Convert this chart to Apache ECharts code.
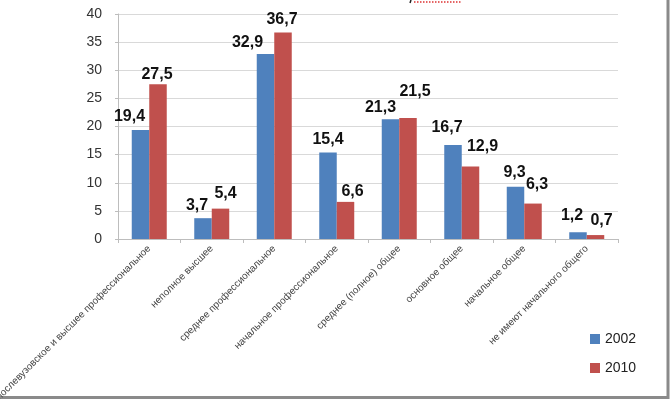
<!DOCTYPE html>
<html>
<head>
<meta charset="utf-8">
<script src="https://cdn.jsdelivr.net/npm/echarts@6/dist/echarts.min.js"></script>
<style>
  html, body { margin: 0; padding: 0; background: #fff; }
  #chart { width: 670px; height: 399px; }
</style>
</head>
<body>
<div id="chart"></div>
<script>
// категории и значения
const categories = [
  'послевузовское и высшее профессиональное',
  'неполное высшее',
  'среднее профессиональное',
  'начальное профессиональное',
  'среднее (полное) общее',
  'основное общее',
  'начальное общее',
  'не имеют начального общего'
];
const values2002 = [19.4, 3.7, 32.9, 15.4, 21.3, 16.7, 9.3, 1.2];
const values2010 = [27.5, 5.4, 36.7, 6.6, 21.5, 12.9, 6.3, 0.7];
const yTicks = [0, 5, 10, 15, 20, 25, 30, 35, 40];

// сдвиги подписей (как в исходной картинке)
const dx2002 = [-11, -6, -18, 0, -10, -6, -1, -6];
const dy2002 = [0, 0, 2, 0, 1, -4, -1, -4];
const dx2010 = [-1, 5, -1, 7, 7, 12, 4, 6];
const dy2010 = [3, -2, 0, 3, -13, -7, -6, -1];

function makeData(vals, dx, dy) {
  return vals.map((v, i) => ({ value: v, label: { offset: [dx[i], dy[i]] } }));
}

const labelStyle = {
  show: true,
  position: 'top',
  distance: 5,
  fontFamily: 'Liberation Sans',
  fontWeight: 'bold',
  fontSize: 16,
  color: '#111',
  formatter: p => String(p.value).replace('.', ',')
};

const myChart = echarts.init(document.getElementById('chart'));
const option = {
  animation: false,
  grid: { left: 118, right: 52, top: 14, bottom: 160, outerBoundsMode: 'none' },
  legend: {
    data: ['2002', '2010'],
    orient: 'vertical',
    left: 585,
    top: 327,
    itemWidth: 10,
    itemHeight: 10,
    itemGap: 15,
    icon: 'rect',
    textStyle: { fontFamily: 'Liberation Sans', fontSize: 14, color: '#222' }
  },
  xAxis: {
    type: 'category',
    data: categories,
    axisLine: { lineStyle: { color: '#bdbdbd' } },
    axisTick: { show: true, length: 4, lineStyle: { color: '#bdbdbd' } },
    axisLabel: {
      interval: 0,
      rotate: 45,
      margin: 8,
      fontFamily: 'Liberation Sans',
      fontSize: 10,
      color: '#444'
    }
  },
  yAxis: {
    type: 'value',
    min: yTicks[0],
    max: yTicks[yTicks.length - 1],
    interval: 5,
    axisLine: { show: true, lineStyle: { color: '#bdbdbd' } },
    axisTick: { show: true, length: 3, lineStyle: { color: '#bdbdbd' } },
    axisLabel: { margin: 16, fontFamily: 'Liberation Sans', fontSize: 14, color: '#333' },
    splitLine: { lineStyle: { color: '#d9d9d9' } }
  },
  series: [
    {
      name: '2002',
      type: 'bar',
      data: makeData(values2002, dx2002, dy2002),
      barGap: '0%',
      barCategoryGap: '44%',
      itemStyle: { color: '#4f81bd' },
      label: labelStyle
    },
    {
      name: '2010',
      type: 'bar',
      data: makeData(values2010, dx2010, dy2010),
      itemStyle: { color: '#c0504d' },
      label: labelStyle
    }
  ],
  graphic: [
    // обрезанный заголовок сверху
    { type: 'line', shape: { x1: 414, y1: 2, x2: 462, y2: 2 }, style: { stroke: '#d33', lineWidth: 1.5, lineDash: [1.5, 1.5] } },
    { type: 'line', shape: { x1: 411, y1: 0, x2: 410, y2: 3 }, style: { stroke: '#222', lineWidth: 1.5 } },
    // рамка слайда
    { type: 'polyline', shape: { points: [[0, 397.5], [668, 397.5], [668, 0]] }, style: { stroke: '#8a8a8a', lineWidth: 3, fill: null } }
  ]
};
option && myChart.setOption(option);
</script>
</body>
</html>
